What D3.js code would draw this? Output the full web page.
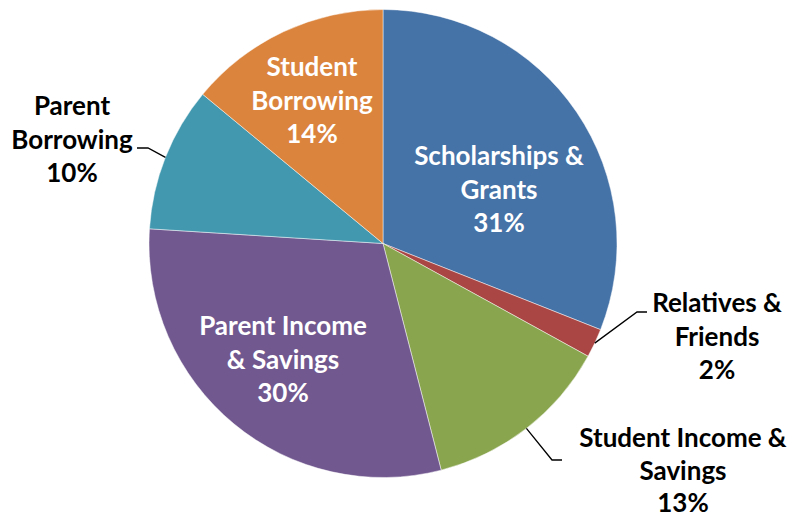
<!DOCTYPE html>
<html>
<head>
<meta charset="utf-8">
<script src="https://cdn.jsdelivr.net/npm/d3@7"></script>
<style>
  html, body { margin: 0; padding: 0; background: #fff; }
  svg { display: block; }
  text { font-family: "Lato", "Open Sans", sans-serif; font-weight: 700; }
</style>
</head>
<body>
<svg id="chart" width="793" height="520"></svg>
<script>
// Sources of college funding, share of total (%)
const categories = [
  "Scholarships & Grants",
  "Relatives & Friends",
  "Student Income & Savings",
  "Parent Income & Savings",
  "Parent Borrowing",
  "Student Borrowing"
];
const values = [31, 2, 13, 30, 10, 14];
// Label text broken into lines (the percentage is appended as the last line)
const labelLines = [
  ["Scholarships &", "Grants"],
  ["Relatives &", "Friends"],
  ["Student Income &", "Savings"],
  ["Parent Income", "& Savings"],
  ["Parent", "Borrowing"],
  ["Student", "Borrowing"]
];
const colors = ["#4572A7", "#AA4643", "#89A54E", "#71588F", "#4198AF", "#DB843D"];

// Layout
const W = 793, H = 520;
const cx = 383, cy = 243.5, R = 234;
const fontSize = 26, lineGap = 33.5;

// Label placement: anchor (centre x, baseline of first line), whether it sits
// inside the slice, and the elbow/end of the leader line for outside labels.
const labelLayout = [
  { x: 499, y: 165, inside: true },
  { x: 717, y: 312, inside: false, elbow: [637, 312], end: [647, 312] },
  { x: 683, y: 447, inside: false, elbow: [552, 460], end: [562, 460], gap: 32.5 },
  { x: 283, y: 335, inside: true },
  { x: 72,  y: 115, inside: false, elbow: [148, 148], end: [137, 148] },
  { x: 312, y: 76,  inside: true }
];

const svg = d3.select("#chart");
const g = svg.append("g").attr("transform", `translate(${cx},${cy})`);

const data = categories.map((c, i) => ({ name: c, value: values[i], lines: labelLines[i], color: colors[i], layout: labelLayout[i] }));

const pie = d3.pie().sort(null).value(d => d.value).startAngle(0).endAngle(2 * Math.PI);
const arc = d3.arc().innerRadius(0).outerRadius(R);
const arcs = pie(data);

g.selectAll("path.slice")
  .data(arcs)
  .join("path")
  .attr("class", "slice")
  .attr("d", arc)
  .attr("fill", d => d.data.color)
  .attr("stroke", "#ffffff")
  .attr("stroke-opacity", 0.6)
  .attr("stroke-width", 0.8);

// Leader lines for labels set outside the pie: start on the rim at the slice's mid-angle
arcs.filter(d => !d.data.layout.inside).forEach(d => {
  const mid = (d.startAngle + d.endAngle) / 2;
  const sx = cx + R * Math.sin(mid), sy = cy - R * Math.cos(mid);
  const L = d.data.layout;
  svg.append("polyline")
    .attr("points", [[sx, sy], L.elbow, L.end].map(p => p.join(",")).join(" "))
    .attr("fill", "none")
    .attr("stroke", "#000")
    .attr("stroke-width", 1.3);
});

// Labels
arcs.forEach(d => {
  const L = d.data.layout;
  const gap = L.gap || lineGap;
  const lines = d.data.lines.concat([d.data.value + "%"]);
  const t = svg.append("text")
    .attr("text-anchor", "middle")
    .attr("font-size", fontSize)
    .attr("fill", L.inside ? "#ffffff" : "#000000");
  lines.forEach((s, k) => {
    t.append("tspan").attr("x", L.x).attr("y", L.y + k * gap).text(s);
  });
});
</script>
</body>
</html>
